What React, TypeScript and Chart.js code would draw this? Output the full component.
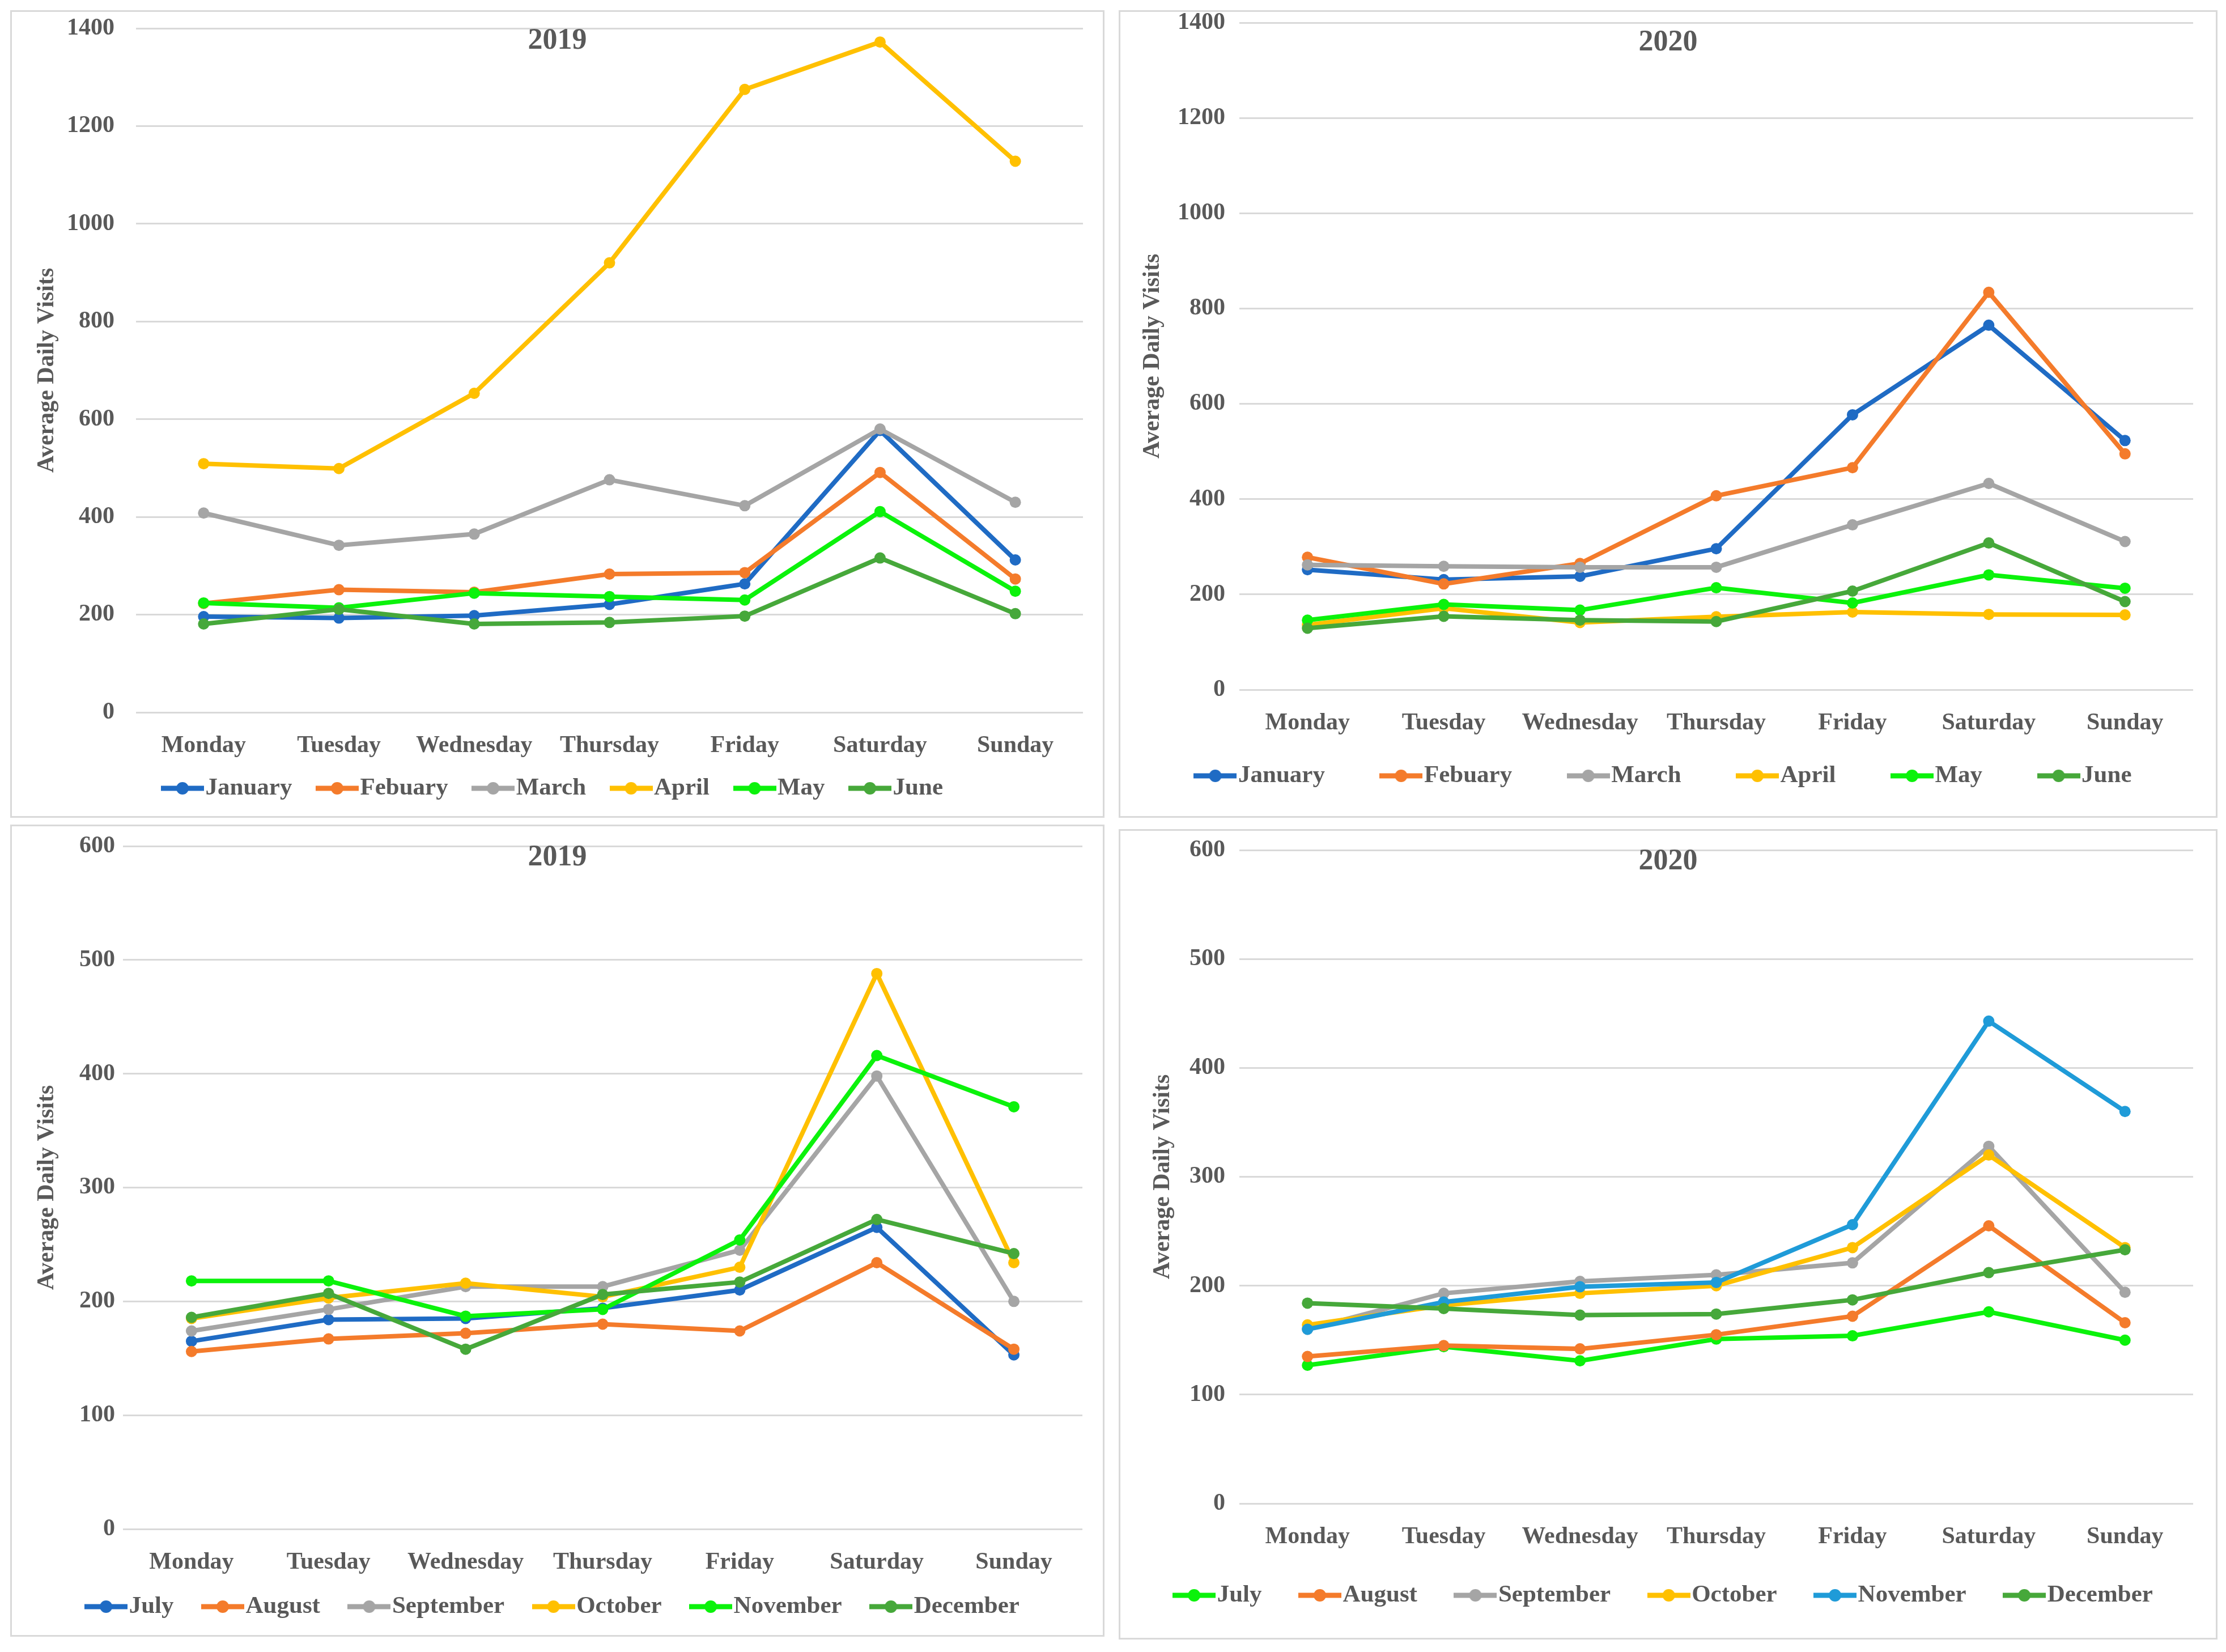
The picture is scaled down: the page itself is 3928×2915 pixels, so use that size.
import React, { useEffect, useRef } from "react";
import { Chart, registerables } from "chart.js";

Chart.register(...registerables);

// ---------- data ----------
const days = ["Monday", "Tuesday", "Wednesday", "Thursday", "Friday", "Saturday", "Sunday"];

const firstHalfMonths = ["January", "Febuary", "March", "April", "May", "June"];
const secondHalfMonths = ["July", "August", "September", "October", "November", "December"];

// 2019, January - June
const january2019 = [196, 193, 198, 221, 263, 577, 312];
const febuary2019 = [223, 251, 246, 283, 286, 491, 273];
const march2019 = [408, 342, 365, 476, 423, 580, 430];
const april2019 = [509, 499, 653, 920, 1275, 1372, 1128];
const may2019 = [224, 214, 244, 237, 230, 411, 248];
const june2019 = [181, 211, 181, 184, 197, 316, 202];

// 2020, January - June
const january2020 = [252, 231, 238, 296, 577, 765, 523];
const febuary2020 = [278, 222, 265, 407, 466, 834, 495];
const march2020 = [262, 259, 257, 257, 346, 433, 311];
const april2020 = [136, 171, 141, 153, 163, 158, 157];
const may2020 = [146, 179, 167, 214, 182, 241, 213];
const june2020 = [129, 154, 146, 143, 207, 308, 185];

// 2019, July - December
const july2019 = [165, 184, 185, 194, 210, 265, 153];
const august2019 = [156, 167, 172, 180, 174, 234, 158];
const september2019 = [174, 193, 213, 213, 245, 398, 200];
const october2019 = [185, 203, 216, 204, 230, 488, 234];
const november2019 = [218, 218, 187, 193, 254, 416, 371];
const december2019 = [186, 207, 158, 206, 217, 272, 242];

// 2020, July - December
const july2020 = [127, 144, 131, 151, 154, 176, 150];
const august2020 = [135, 145, 142, 155, 172, 255, 166];
const september2020 = [160, 193, 204, 210, 221, 328, 194];
const october2020 = [164, 182, 193, 200, 235, 320, 235];
const november2020 = [160, 185, 199, 203, 256, 443, 360];
const december2020 = [184, 179, 173, 174, 187, 212, 233];

// ---------- styles ----------
const BLUE = "#1F6BC4";
const ORANGE = "#F47B2B";
const GREY = "#A5A5A5";
const YELLOW = "#FFC000";
const LIME = "#0BF20B";
const GREEN = "#46A83A";
const SKY = "#1F9BD8";

const TEXT = "#595959";
const FONT = "'Liberation Serif', 'Times New Roman', serif";

const LEGEND_FONT = 43;
const LEGEND_FIT_H = 60;
const X_AXIS_H = 80;

type Layout = {
  left: number; top: number; width: number; height: number;
  yAxisW: number; rightPad: number; topPad: number; chartBottom: number;
  legendPad: number; legendCenter: number; titleY: number; yTitlePad: number; yTickPad: number;
};

type Panel = {
  title: string;
  names: string[];
  values: number[][];
  colors: string[];
  yMax: number;
  yStep: number;
  layout: Layout;
};

const panels: Panel[] = [
  {
    title: "2019",
    names: firstHalfMonths,
    values: [january2019, febuary2019, march2019, april2019, may2019, june2019],
    colors: [BLUE, ORANGE, GREY, YELLOW, LIME, GREEN],
    yMax: 1400, yStep: 200,
    layout: { left: 18, top: 18, width: 1931, height: 1425, yAxisW: 222, rightPad: 38, topPad: 32, chartBottom: 1239,
      legendPad: 60.5, legendCenter: 1373, titleY: 55, yTitlePad: 40, yTickPad: 38 },
  },
  {
    title: "2020",
    names: firstHalfMonths,
    values: [january2020, febuary2020, march2020, april2020, may2020, june2020],
    colors: [BLUE, ORANGE, GREY, YELLOW, LIME, GREEN],
    yMax: 1400, yStep: 200,
    layout: { left: 1974, top: 18, width: 1939, height: 1425, yAxisW: 213, rightPad: 43, topPad: 22, chartBottom: 1199,
      legendPad: 115.5, legendCenter: 1351, titleY: 58, yTitlePad: 35, yTickPad: 25 },
  },
  {
    title: "2019",
    names: secondHalfMonths,
    values: [july2019, august2019, september2019, october2019, november2019, december2019],
    colors: [BLUE, ORANGE, GREY, YELLOW, LIME, GREEN],
    yMax: 600, yStep: 100,
    layout: { left: 18, top: 1455, width: 1931, height: 1433, yAxisW: 199, rightPad: 39, topPad: 38, chartBottom: 1243,
      legendPad: 67.5, legendCenter: 1380, titleY: 59, yTitlePad: 40, yTickPad: 14 },
  },
  {
    title: "2020",
    names: secondHalfMonths,
    values: [july2020, august2020, september2020, october2020, november2020, december2020],
    colors: [LIME, ORANGE, GREY, YELLOW, SKY, GREEN],
    yMax: 600, yStep: 100,
    layout: { left: 1974, top: 1463, width: 1939, height: 1430, yAxisW: 213, rightPad: 43, topPad: 37, chartBottom: 1190,
      legendPad: 83.5, legendCenter: 1352, titleY: 58, yTitlePad: 53, yTickPad: 25 },
  },
];

function makeMarker(color: string): HTMLCanvasElement {
  const c = document.createElement("canvas");
  c.width = 76;
  c.height = 24;
  const g = c.getContext("2d")!;
  g.strokeStyle = color;
  g.lineWidth = 9;
  g.beginPath();
  g.moveTo(0, 12);
  g.lineTo(76, 12);
  g.stroke();
  g.fillStyle = color;
  g.beginPath();
  g.arc(38, 12, 11, 0, Math.PI * 2);
  g.fill();
  return c;
}

function PanelChart({ panel }: { panel: Panel }) {
  const ref = useRef<HTMLCanvasElement | null>(null);
  const L = panel.layout;

  useEffect(() => {
    if (!ref.current) return;
    const markers = panel.colors.map(makeMarker);
    const n = panel.names.length;
    const bottomPad = L.height - LEGEND_FIT_H - X_AXIS_H - L.chartBottom;

    const titlePlugin = {
      id: "panelTitle",
      afterDraw(chart: any) {
        const ctx = chart.ctx;
        ctx.save();
        ctx.font = `bold 52px ${FONT}`;
        ctx.fillStyle = TEXT;
        ctx.textAlign = "center";
        ctx.textBaseline = "middle";
        ctx.fillText(panel.title, chart.width / 2, L.titleY);
        ctx.restore();
      },
    };

    const legendPlacer = {
      id: "legendPlacer",
      beforeLayout(chart: any) {
        const lg = chart.legend;
        if (lg && !lg.__fitPatched) {
          const f = lg.fit;
          lg.fit = function () {
            f.call(this);
            this.height = LEGEND_FIT_H;
          };
          lg.__fitPatched = true;
        }
      },
      afterLayout(chart: any) {
        const lg = chart.legend;
        if (!lg) return;
        const top = L.legendCenter - L.legendPad - LEGEND_FONT / 2;
        lg.top = top;
        lg.height = L.legendPad + LEGEND_FONT + 30;
        lg.bottom = top + lg.height;
      },
    };

    const chart = new Chart(ref.current, {
      type: "line",
      data: {
        labels: days,
        datasets: panel.names.map((name, i) => ({
          label: name,
          data: panel.values[i],
          borderColor: panel.colors[i],
          backgroundColor: panel.colors[i],
          pointBackgroundColor: panel.colors[i],
          pointBorderColor: panel.colors[i],
          borderWidth: 8,
          pointRadius: 10,
          pointBorderWidth: 0,
          tension: 0,
          fill: false,
          order: n - 1 - i,
          yAxisID: "y",
        })),
      },
      options: {
        responsive: false,
        animation: false,
        devicePixelRatio: 1,
        layout: { padding: { left: 0, right: 0, top: L.topPad, bottom: bottomPad } },
        plugins: {
          tooltip: { enabled: false },
          title: { display: false },
          legend: {
            display: true,
            position: "bottom",
            align: "center",
            labels: {
              usePointStyle: true,
              pointStyleWidth: 38,
              padding: L.legendPad,
              color: TEXT,
              font: { family: FONT, size: LEGEND_FONT, weight: "bold" },
              generateLabels: () =>
                panel.names.map((name, i) => ({
                  text: name,
                  fillStyle: panel.colors[i],
                  strokeStyle: panel.colors[i],
                  fontColor: TEXT,
                  lineWidth: 0,
                  pointStyle: markers[i] as any,
                  hidden: false,
                  datasetIndex: i,
                })),
            },
          },
        },
        scales: {
          x: {
            type: "category",
            offset: true,
            grid: { display: false },
            border: { display: false },
            ticks: {
              color: TEXT,
              padding: 26,
              maxRotation: 0,
              autoSkip: false,
              font: { family: FONT, size: 42, weight: "bold" },
            },
            afterFit: (s: any) => {
              s.height = X_AXIS_H;
              s.paddingLeft = 0;
              s.paddingRight = 0;
            },
          },
          y: {
            type: "linear",
            position: "left",
            min: 0,
            max: panel.yMax,
            grid: { color: "#D9D9D9", lineWidth: 3, drawTicks: false },
            border: { display: false },
            ticks: {
              stepSize: panel.yStep,
              color: TEXT,
              padding: L.yTickPad,
              font: { family: FONT, size: 42, weight: "bold" },
              callback: (v: any) => String(v),
            },
            title: {
              display: true,
              text: "Average Daily Visits",
              color: TEXT,
              padding: { top: L.yTitlePad, bottom: 0 },
              font: { family: FONT, size: 42, weight: "bold" },
            },
            afterFit: (s: any) => {
              s.width = L.yAxisW;
              s.paddingTop = 0;
              s.paddingBottom = 0;
            },
          },
          yR: {
            type: "linear",
            position: "right",
            display: true,
            grid: { display: false, drawTicks: false },
            border: { display: false },
            ticks: { display: false },
            afterFit: (s: any) => {
              s.width = L.rightPad;
              s.paddingTop = 0;
              s.paddingBottom = 0;
            },
          },
        },
      } as any,
      plugins: [titlePlugin, legendPlacer],
    });
    return () => chart.destroy();
  }, [panel]);

  return (
    <div
      style={{
        position: "absolute",
        left: L.left,
        top: L.top,
        width: L.width,
        height: L.height,
        border: "3px solid #D9D9D9",
        boxSizing: "border-box",
      }}
    >
      <canvas
        ref={ref}
        width={L.width}
        height={L.height}
        style={{ position: "absolute", left: -3, top: -3, width: L.width, height: L.height }}
      />
    </div>
  );
}

export default function App() {
  return (
    <div
      style={{
        position: "absolute",
        left: 0,
        top: 0,
        width: 3928,
        height: 2915,
        background: "#FFFFFF",
        overflow: "hidden",
      }}
    >
      {panels.map((p, i) => (
        <PanelChart key={i} panel={p} />
      ))}
    </div>
  );
}
